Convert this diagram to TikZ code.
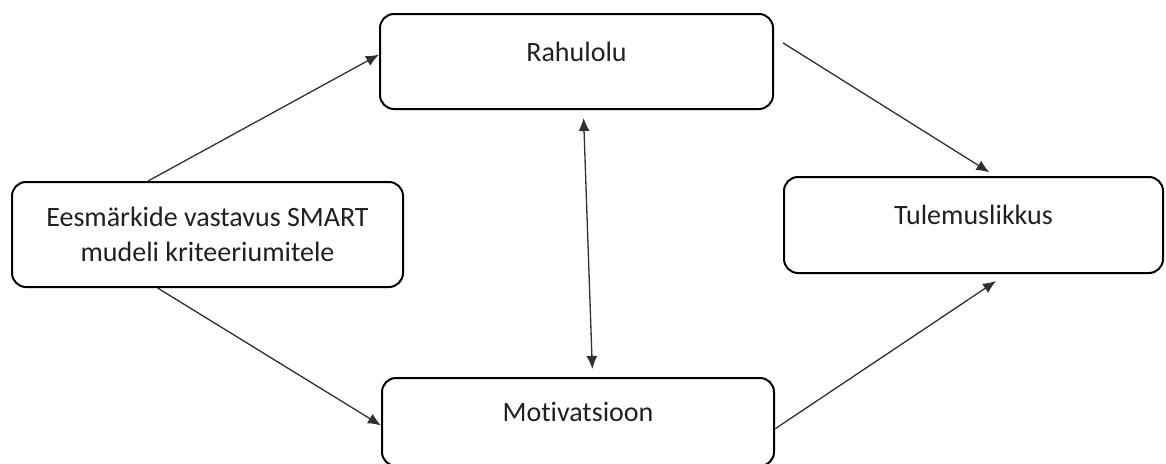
\documentclass[tikz,border=0pt]{standalone}
\usepackage{fontspec}
\setmainfont{Carlito}[Ligatures=NoCommon]
\usetikzlibrary{arrows.meta}
\definecolor{tekst}{HTML}{202020}
\definecolor{joon}{HTML}{303030}
\tikzstyle{block}=[rectangle, draw, line width=2pt, rounded corners=14pt, text=tekst, font=\fontsize{28}{35}\selectfont, align=center]
\tikzstyle{oneline}=[text height=20pt, text depth=21pt]
\newcommand{\block}{\node[block]}

\begin{document}
\begin{tikzpicture}[x=1pt, y=-1pt
    ,>={Latex[length=13pt,width=11pt]}
    ,every edge/.style={draw, joon, line width=1.3pt, ->}
]
\clip (0,0) rectangle (1166,463);
\block[minimum width=391pt, minimum height=105pt] (e) at (207.5,234.5) {Eesmärkide vastavus SMART\\mudeli kriteeriumitele};
\block[oneline, minimum width=393pt, minimum height=95pt] (r) at (576.5,61.5) {Rahulolu};
\block[oneline, minimum width=392pt, minimum height=88pt] (m) at (578,422) {Motivatsioon};
\block[oneline, minimum width=379pt, minimum height=96pt] (t) at (973.5,225) {Tulemuslikkus};
\path
(e.138.6) edge (r.178.1)
(e.227.9) edge (m.181.5)
(r.7) edge [shorten <=10.6pt, shorten >=7pt] (t.66.5)
(m.358.5) edge [shorten >=12.7pt] (t.-56.2)
(r.-82.6) edge [<->, shorten <=8pt, shorten >=8pt] (m.72)
;
\end{tikzpicture}
\end{document}
